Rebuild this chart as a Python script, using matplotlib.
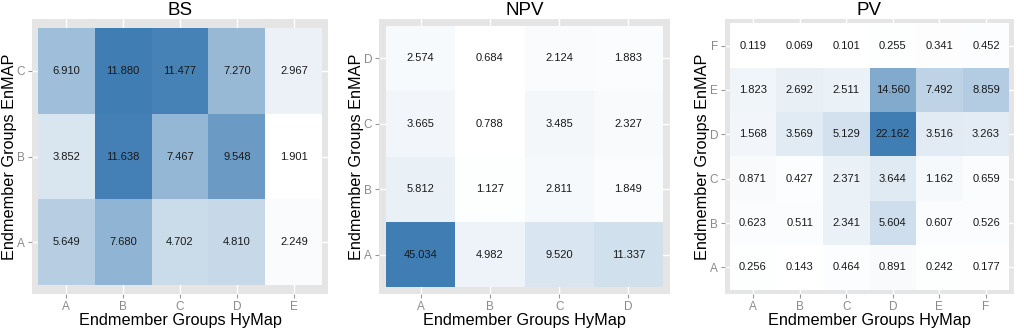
import numpy as np
import matplotlib.pyplot as plt
from matplotlib.colors import LinearSegmentedColormap

plt.rcParams['font.family'] = ['Liberation Sans', 'DejaVu Sans']

# rows = EnMAP groups (A at bottom), cols = HyMap groups
bs_rows = ["A", "B", "C"]
bs_cols = ["A", "B", "C", "D", "E"]
bs_vals = [[5.649, 7.680, 4.702, 4.810, 2.249],
           [3.852, 11.638, 7.467, 9.548, 1.901],
           [6.910, 11.880, 11.477, 7.270, 2.967]]

npv_rows = ["A", "B", "C", "D"]
npv_cols = ["A", "B", "C", "D"]
npv_vals = [[45.034, 4.982, 9.520, 11.337],
            [5.812, 1.127, 2.811, 1.849],
            [3.665, 0.788, 3.485, 2.327],
            [2.574, 0.684, 2.124, 1.883]]

pv_rows = ["A", "B", "C", "D", "E", "F"]
pv_cols = ["A", "B", "C", "D", "E", "F"]
pv_vals = [[0.256, 0.143, 0.464, 0.891, 0.242, 0.177],
           [0.623, 0.511, 2.341, 5.604, 0.607, 0.526],
           [0.871, 0.427, 2.371, 3.644, 1.162, 0.659],
           [1.568, 3.569, 5.129, 22.162, 3.516, 3.263],
           [1.823, 2.692, 2.511, 14.560, 7.492, 8.859],
           [0.119, 0.069, 0.101, 0.255, 0.341, 0.452]]

cmap = LinearSegmentedColormap.from_list("wb", ["#ffffff", "#3f7db3"])

W, H = 1024, 331
fig = plt.figure(figsize=(W / 100, H / 100), dpi=100)
# panel edges in pixels: left, right, top, bottom
boxes = [(32, 328, 19, 294), (379, 670, 19, 294), (725, 1014, 19, 294)]
panels = [("BS", bs_rows, bs_cols, bs_vals),
          ("NPV", npv_rows, npv_cols, npv_vals),
          ("PV", pv_rows, pv_cols, pv_vals)]

for (l, r, t, b), (title, rows, cols, vals) in zip(boxes, panels):
    ax = fig.add_axes([l / W, (H - b) / H, (r - l) / W, (b - t) / H])
    v = np.array(vals)
    ax.set_facecolor("#e5e5e5")
    ax.pcolormesh(np.arange(len(cols) + 1) - 0.5, np.arange(len(rows) + 1) - 0.5,
                  v, cmap=cmap, vmin=v.min(), vmax=v.max(), zorder=2)
    for i in range(len(rows)):
        for j in range(len(cols)):
            ax.text(j, i, "%.3f" % v[i, j], ha="center", va="center",
                    fontsize=8, color="#1a1a1a", zorder=3)
    ax.set_xlim(-0.6, len(cols) - 0.4)
    ax.set_ylim(-0.6, len(rows) - 0.4)
    ax.set_xticks(range(len(cols)))
    ax.set_xticklabels(cols)
    ax.set_yticks(range(len(rows)))
    ax.set_yticklabels(rows)
    ax.grid(True, color="white", linewidth=1.0, zorder=1)
    ax.set_axisbelow(True)
    ax.tick_params(colors="#999999", labelcolor="#8a8a8a", labelsize=8.5,
                   length=3, width=0.8, pad=2)
    for s in ax.spines.values():
        s.set_visible(False)
    ax.set_title(title, fontsize=13.5, pad=2)
    ax.set_xlabel("Endmember Groups HyMap", fontsize=11.7, labelpad=0)
    ax.set_ylabel("Endmember Groups EnMAP", fontsize=11.7, labelpad=0)

fig.savefig("out.png", dpi=100)
